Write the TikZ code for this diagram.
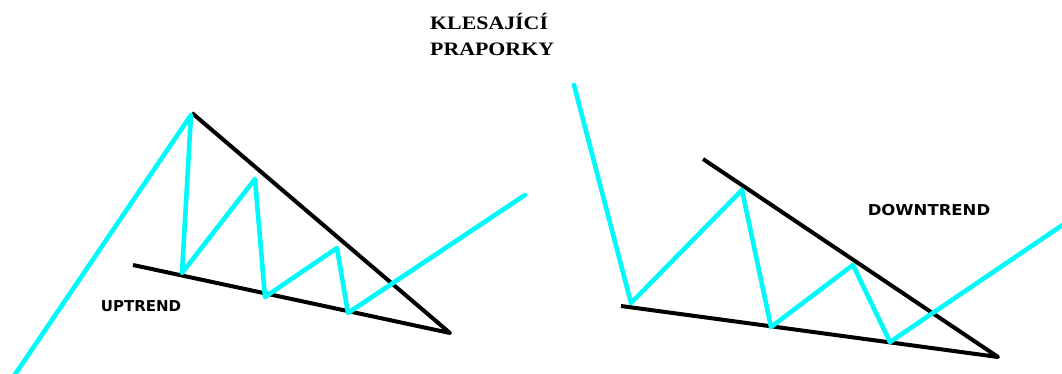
\documentclass[tikz,border=0pt]{standalone}
\usepackage{fontspec}
\setmainfont{Liberation Serif}
\newfontfamily\labelfont{DejaVu Sans}
\definecolor{trendcyan}{RGB}{0,250,250}
\begin{document}
\begin{tikzpicture}[x=1pt,y=-1pt,
  price/.style={draw=trendcyan,line width=4.6pt,line join=round,line cap=round},
  bound/.style={draw=black,line width=4pt,line join=round,line cap=butt},
  lbl/.style={font=\labelfont\bfseries\fontsize{15}{15}\selectfont,inner sep=0pt},
  ttl/.style={font=\bfseries\fontsize{19}{19}\selectfont,inner sep=0pt,anchor=base west,xscale=1.15}]
\useasboundingbox[fill=white] (0,0) rectangle (1062,374);
% title
\node[ttl] (t1) at (430,30) {KLESAJÍCÍ};
\node[ttl] (t2) at (430,56) {PRAPORKY};
% left pattern
\coordinate (a0) at (14,376);
\coordinate (a1) at (191,115);
\coordinate (a2) at (182,273);
\coordinate (a3) at (255,179);
\coordinate (a4) at (265,297);
\coordinate (a5) at (337,248);
\coordinate (a6) at (348,313);
\coordinate (a7) at (525,195);
\coordinate (lt) at (192,113);
\coordinate (lb) at (133,265);
\coordinate (lv) at (450,333);
\draw[bound] (lt) -- (lv) -- (lb);
\draw[price] (a0) -- (a1) -- (a2) -- (a3) -- (a4) -- (a5) -- (a6) -- (a7);
\node[lbl] (up) at (141,306) {UPTREND};
% right pattern
\coordinate (b0) at (574,85);
\coordinate (b1) at (631,303);
\coordinate (b2) at (742,190);
\coordinate (b3) at (771,327);
\coordinate (b4) at (853,265);
\coordinate (b5) at (890,342);
\coordinate (b6) at (1064,224);
\coordinate (rt) at (703,159);
\coordinate (rb) at (621,306);
\coordinate (rv) at (998,357);
\draw[bound] (rt) -- (rv) -- (rb);
\draw[price] (b0) -- (b1) -- (b2) -- (b3) -- (b4) -- (b5) -- (b6);
\node[lbl,xscale=1.1] (down) at (929,210) {DOWNTREND};
\end{tikzpicture}
\end{document}
